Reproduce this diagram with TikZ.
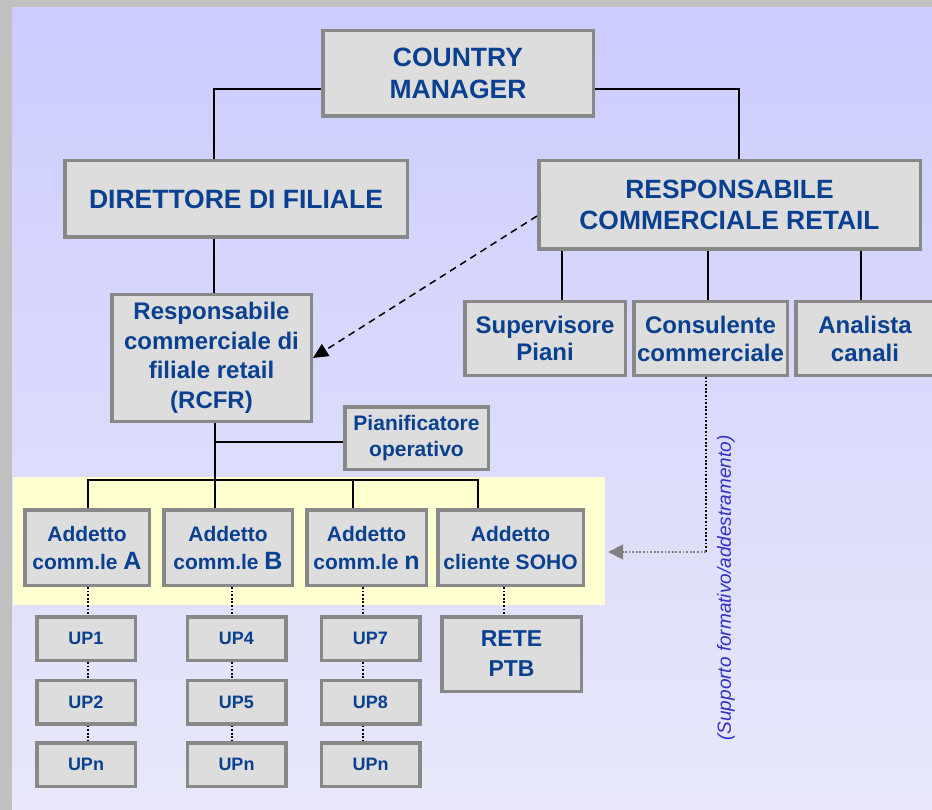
\documentclass[tikz,border=0pt]{standalone}
\usepackage{fontspec}
\setmainfont{Liberation Sans}
\usetikzlibrary{arrows.meta,calc}
\definecolor{txtblue}{RGB}{10,64,144}
\definecolor{boxgray}{RGB}{136,136,136}
\definecolor{boxfill}{RGB}{221,221,221}
\definecolor{outergray}{RGB}{192,192,192}
\definecolor{bgtop}{RGB}{204,204,255}
\definecolor{bgbot}{RGB}{232,232,250}
\definecolor{yelbg}{RGB}{255,255,208}
\definecolor{notecol}{RGB}{48,48,200}
\definecolor{arrgray}{RGB}{128,128,128}
\newcommand{\fs}[2]{\fontsize{#1}{#2}\selectfont}
\begin{document}
\begin{tikzpicture}[x=1pt,y=-1pt,
  orgbox/.style={draw=boxgray,fill=boxfill,line width=3.5pt,inner sep=0pt,
    align=center,text=txtblue,font=\bfseries},
  link/.style={black,line width=1.5pt},
  dotlink/.style={black,line width=1.8pt,dash pattern=on 1.8pt off 1.8pt},
  dashlink/.style={black,line width=1.5pt,dash pattern=on 7pt off 5pt}]
% background
\useasboundingbox (0,0) rectangle (932,810);
\clip (0,0) rectangle (932,810);
\fill[outergray] (0,0) rectangle (932,810);
\shade[top color=bgtop,bottom color=bgbot] (12,8) rectangle (932,810);
\node[fill=yelbg,inner sep=0pt,minimum width=592pt,minimum height=128pt] (yel) at (309,541) {};
% boxes
\node[orgbox,minimum width=270.5pt,minimum height=85.5pt,font=\bfseries\fs{26.5}{32}] (cm) at (458,73.5) {COUNTRY\\MANAGER};
\node[orgbox,minimum width=342.5pt,minimum height=76.5pt,font=\bfseries\fs{26.5}{32}] (dir) at (236,199) {DIRETTORE DI FILIALE};
\node[orgbox,minimum width=381.5pt,minimum height=88.5pt,font=\bfseries\fs{26.4}{31}] (rcr) at (729.5,205) {RESPONSABILE\\COMMERCIALE RETAIL};
\node[orgbox,minimum width=199.5pt,minimum height=126.5pt,font=\bfseries\fs{24}{29.5}] (rcfr) at (211.5,358) {Responsabile\\commerciale di\\filiale retail\\(RCFR)};
\node[orgbox,minimum width=160.5pt,minimum height=73.5pt,font=\bfseries\fs{24}{27}] (sup) at (545,338.5) {Supervisore\\Piani};
\node[orgbox,minimum width=153.5pt,minimum height=73.5pt,font=\bfseries\fs{24}{28}] (con) at (710.5,338.5) {Consulente\\commerciale};
\node[orgbox,minimum width=138.5pt,minimum height=73.5pt,font=\bfseries\fs{24}{28}] (ana) at (865,338.5) {Analista\\canali};
\node[orgbox,minimum width=143.5pt,minimum height=62.5pt,font=\bfseries\fs{21}{25.5}] (pian) at (416.5,438) {Pianificatore\\operativo};
\node[orgbox,minimum width=124.5pt,minimum height=75.5pt,font=\bfseries\fs{21}{28}] (addA) at (87,547.5) {Addetto\\comm.le {\fs{25}{28}A}};
\node[orgbox,minimum width=128.5pt,minimum height=75.5pt,font=\bfseries\fs{21}{28}] (addB) at (228,547.5) {Addetto\\comm.le {\fs{25}{28}B}};
\node[orgbox,minimum width=119.5pt,minimum height=75.5pt,font=\bfseries\fs{21}{28}] (addN) at (366.5,547.5) {Addetto\\comm.le {\fs{25}{28}n}};
\node[orgbox,minimum width=145.5pt,minimum height=75.5pt,font=\bfseries\fs{21}{28}] (addS) at (510.5,547.5) {Addetto\\cliente SOHO};
% UP boxes
\tikzset{upbox/.style={orgbox,minimum width=98.5pt,minimum height=43.5pt,font=\bfseries\fs{18}{22}}}
\node[upbox] (up1) at (86,638.5) {UP1};
\node[upbox] (up2) at (86,702) {UP2};
\node[upbox] (upa) at (86,764.5) {UPn};
\node[upbox] (up4) at (236.5,638.5) {UP4};
\node[upbox] (up5) at (236.5,702) {UP5};
\node[upbox] (upb) at (236.5,764.5) {UPn};
\node[upbox] (up7) at (370.5,638.5) {UP7};
\node[upbox] (up8) at (370.5,702) {UP8};
\node[upbox] (upc) at (370.5,764.5) {UPn};
\node[orgbox,minimum width=139.5pt,minimum height=74.5pt,font=\bfseries\fs{23}{30}] (rete) at (511.5,654) {RETE\\PTB};
% helper coordinates
\coordinate (r1) at ([xshift=-167.5pt]rcr.south);
\coordinate (r2) at ([xshift=-21.5pt]rcr.south);
\coordinate (r3) at ([xshift=131.5pt]rcr.south);
\coordinate (bus) at (215,480);
\coordinate (dA) at ([xshift=1pt]addA.south);
\coordinate (dB) at ([xshift=4pt]addB.south);
\coordinate (dN) at ([xshift=-3.5pt]addN.south);
\coordinate (dS) at ([xshift=-6.5pt]addS.south);
\coordinate (bend) at (706,552);
% connectors top
\draw[link] ([yshift=-15.5pt]cm.west) -| ([xshift=-22pt]dir.north);
\draw[link] ([yshift=-15.5pt]cm.east) -| ([xshift=9.5pt]rcr.north);
\draw[link] ([xshift=-22pt]dir.south) -- ([xshift=2.5pt]rcfr.north);
\draw[link] (r1) -- (sup.north -| r1);
\draw[link] (r2) -- (con.north -| r2);
\draw[link] (r3) -- (ana.north -| r3);
\draw[dashlink,-{Triangle[length=15pt,width=14pt]}] ([yshift=-11pt]rcr.west) -- (rcfr.east);
% RCFR trunk and bus
\draw[link] ([xshift=3.5pt]rcfr.south) -- ([xshift=-13pt]addB.north);
\draw[link] ([yshift=-4pt]pian.west) -- ([yshift=-4pt]pian.west -| bus);
\draw[link] ([xshift=1pt]addA.north) |- ([xshift=-32.5pt]addS.north |- bus) -- ([xshift=-32.5pt]addS.north);
\draw[link] ([xshift=-13.5pt]addN.north) -- ([xshift=-13.5pt]addN.north |- bus);
% dotted to UPs
\draw[dotlink] (dA) -- (dA |- up1.north);
\draw[dotlink] (dA |- up1.south) -- (dA |- up2.north);
\draw[dotlink] (dA |- up2.south) -- (dA |- upa.north);
\draw[dotlink] (dB) -- (dB |- up4.north);
\draw[dotlink] (dB |- up4.south) -- (dB |- up5.north);
\draw[dotlink] (dB |- up5.south) -- (dB |- upb.north);
\draw[dotlink] (dN) -- (dN |- up7.north);
\draw[dotlink] (dN |- up7.south) -- (dN |- up8.north);
\draw[dotlink] (dN |- up8.south) -- (dN |- upc.north);
\draw[dotlink] (dS) -- (dS |- rete.north);
% support arrow
\draw[dotlink] (con.south -| bend) -- (bend);
\draw[dotlink,arrgray,-{Triangle[length=15pt,width=15pt]}] (bend) -- ([xshift=3pt]yel.east |- bend);
\node[rotate=90,text=notecol,font=\itshape\fs{19}{22}] (note) at (726,588) {(Supporto formativo/addestramento)};
\end{tikzpicture}
\end{document}
